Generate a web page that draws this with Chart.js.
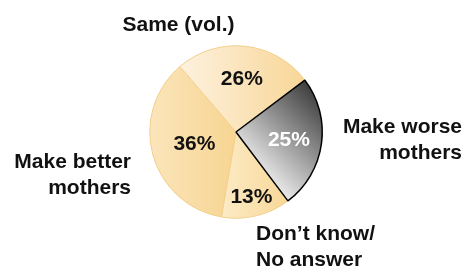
<!DOCTYPE html>
<html>
<head>
<meta charset="utf-8">
<script src="https://cdn.jsdelivr.net/npm/chart.js@4.4.0/dist/chart.umd.min.js"></script>
<style>
  html, body { margin: 0; padding: 0; background: #fff; }
  #wrap { width: 467px; height: 267px; position: relative; }
</style>
</head>
<body>
<div id="wrap"><canvas id="pie"></canvas></div>
<script>
// slices, clockwise, starting at the 13% slice
const categories = ["Don\u2019t know/ No answer", "Make better mothers", "Same (vol.)", "Make worse mothers"];
const values = [13, 36, 26, 25];
const pctLabels = ["13%", "36%", "26%", "25%"];

// outer labels (lines), position, alignment
const outerLabels = [
  { lines: ["Don\u2019t know/", "No answer"], x: 256, y: 240, align: "left" },
  { lines: ["Make better", "mothers"], x: 131, y: 168, align: "right" },
  { lines: ["Same (vol.)"], x: 178.5, y: 31, align: "center" },
  { lines: ["Make worse", "mothers"], x: 462, y: 132.5, align: "right" }
];
const pctRadius = [0.76, 0.5, 0.63, 0.62];
const FONT = "bold 21px 'Liberation Sans', Arial, sans-serif";

function sliceFill(ctx) {
  const chart = ctx.chart;
  const c = chart.ctx;
  const a = chart.chartArea;
  if (!a) return '#f8d898';
  const cx = (a.left + a.right) / 2, cy = (a.top + a.bottom) / 2, r = (a.right - a.left) / 2;
  let g;
  switch (ctx.dataIndex) {
    case 0:
      g = c.createLinearGradient(cx - 15, 0, cx + 50, 0);
      g.addColorStop(0, '#fcebc6'); g.addColorStop(1, '#f8d898');
      return g;
    case 1:
      g = c.createLinearGradient(cx - r, 0, cx, 0);
      g.addColorStop(0, '#fbe5bb'); g.addColorStop(1, '#f7d592');
      return g;
    case 2:
      g = c.createLinearGradient(cx - 55, 0, cx + 70, 0);
      g.addColorStop(0, '#fdf1de'); g.addColorStop(1, '#f8d696');
      return g;
    default:
      g = c.createLinearGradient(cx + 10, cy + 35, cx + 85, cy - 40);
      g.addColorStop(0, '#f4f4f4'); g.addColorStop(1, '#383838');
      return g;
  }
}

const textPlugin = {
  id: 'texts',
  afterDatasetsDraw(chart) {
    const c = chart.ctx;
    const meta = chart.getDatasetMeta(0);
    c.save();
    c.font = FONT;
    c.textBaseline = 'middle';
    c.textAlign = 'center';
    meta.data.forEach((arc, i) => {
      const p = arc.getProps(['x', 'y', 'startAngle', 'endAngle', 'outerRadius']);
      const mid = (p.startAngle + p.endAngle) / 2;
      const rr = p.outerRadius * pctRadius[i];
      c.fillStyle = i === 3 ? '#ffffff' : '#111111';
      c.fillText(pctLabels[i], p.x + Math.cos(mid) * rr, p.y + Math.sin(mid) * rr + 1);
    });
    c.textBaseline = 'alphabetic';
    c.fillStyle = '#111111';
    outerLabels.forEach(l => {
      c.textAlign = l.align;
      l.lines.forEach((t, k) => c.fillText(t, l.x, l.y + k * 26));
    });
    c.restore();
  }
};

new Chart(document.getElementById('pie').getContext('2d'), {
  type: 'pie',
  data: {
    labels: categories,
    datasets: [{
      data: values,
      backgroundColor: sliceFill,
      borderColor: ['#f3cf8c', '#f3cf8c', '#f3cf8c', '#000000'],
      borderWidth: [1, 1, 1, 1.5]
    }]
  },
  options: {
    responsive: true,
    maintainAspectRatio: false,
    animation: false,
    rotation: 143,
    layout: { padding: { left: 149, right: 144, top: 45, bottom: 48 } },
    plugins: {
      legend: { display: false },
      tooltip: { enabled: false }
    }
  },
  plugins: [textPlugin]
});
</script>
</body>
</html>
